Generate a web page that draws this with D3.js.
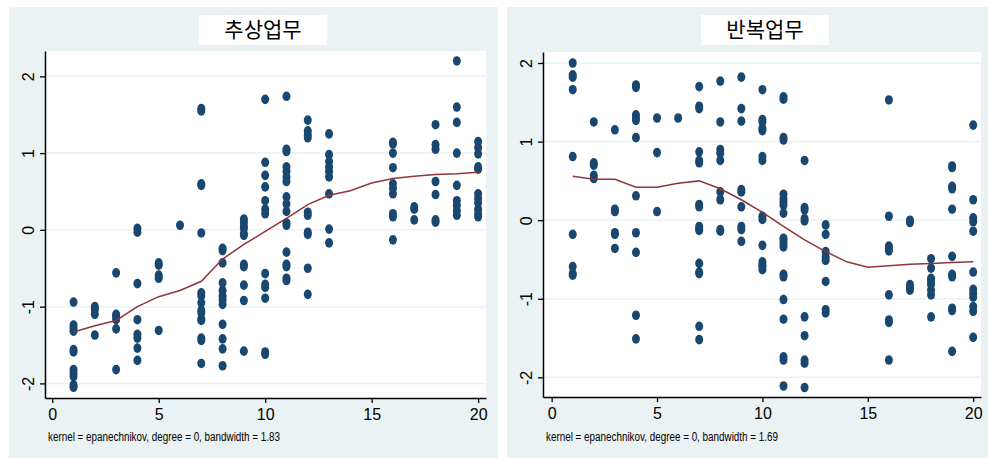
<!DOCTYPE html>
<html>
<head>
<meta charset="utf-8">
<script src="https://cdn.jsdelivr.net/npm/d3@7"></script>
<style>
  body { margin: 0; background: #fff; }
  text { font-family: "Liberation Sans", Arial, sans-serif; fill: #000; }
  .title { font-family: "Noto Sans CJK KR", sans-serif; }
</style>
</head>
<body>
<svg id="chart" width="988" height="458"></svg>
<script>
// x values (job group) and the y values stacked at each x
var abstractX = [1, 2, 3, 4, 5, 6, 7, 8, 9, 10, 11, 12, 13, 16, 17, 18, 19, 20];
var abstractY = [
  [-0.94, -1.24, -1.28, -1.32, -1.56, -1.59, -1.82, -1.87, -1.91, -2.02, -2.05],
  [-1.0, -1.04, -1.10, -1.37],
  [-0.56, -1.10, -1.13, -1.17, -1.29, -1.82],
  [0.02, -0.03, -0.70, -1.17, -1.36, -1.41, -1.54, -1.70],
  [-0.43, -0.46, -0.59, -0.63, -1.31],
  [0.06],
  [1.58, 1.55, 0.60, 0.58, -0.04, -0.82, -0.86, -0.95, -1.05, -1.08, -1.16, -1.18, -1.41, -1.44, -1.74],
  [-0.24, -0.27, -0.43, -0.69, -0.79, -0.86, -0.91, -0.97, -1.23, -1.42, -1.55, -1.77],
  [0.14, 0.10, 0.05, 0.02, -0.05, -0.07, -0.45, -0.48, -0.72, -0.92, -1.58],
  [1.70, 0.88, 0.71, 0.56, 0.38, 0.27, 0.21, -0.57, -0.71, -0.75, -0.89, -1.59, -1.62],
  [1.74, 1.05, 1.02, 0.82, 0.76, 0.69, 0.63, 0.43, 0.34, 0.24, 0.09, 0.06, -0.29, -0.45, -0.48, -0.63, -0.66],
  [1.43, 1.29, 1.24, 1.20, 0.23, 0.19, -0.03, -0.06, -0.50, -0.84],
  [1.25, 0.98, 0.89, 0.82, 0.76, 0.69, 0.47, 0.01, -0.17],
  [1.14, 1.12, 1.00, 0.81, 0.60, 0.54, 0.47, 0.21, 0.17, -0.13],
  [0.30, 0.27, 0.13],
  [1.37, 1.11, 1.05, 0.63, 0.46, 0.13, 0.10],
  [2.20, 1.60, 1.40, 1.00, 0.58, 0.38, 0.32, 0.25, 0.19],
  [1.15, 1.07, 0.99, 0.82, 0.79, 0.47, 0.41, 0.35, 0.27, 0.21, 0.17]
];
var abstractFitX = [1, 2, 3, 4, 5, 6, 7, 8, 9, 10, 11, 12, 13, 14, 15, 16, 17, 18, 19, 20];
var abstractFitY = [-1.33, -1.25, -1.18, -1.0, -0.87, -0.79, -0.67, -0.38, -0.19, -0.02, 0.15, 0.33, 0.45, 0.51, 0.61, 0.67, 0.70, 0.72, 0.73, 0.75];

var routineX = [1, 2, 3, 4, 5, 6, 7, 8, 9, 10, 11, 12, 13, 16, 17, 18, 19, 20];
var routineY = [
  [2.0, 1.85, 1.82, 1.66, 0.81, -0.18, -0.59, -0.68, -0.70],
  [1.25, 0.73, 0.70, 0.57, 0.53],
  [1.15, 0.14, 0.11, -0.16, -0.18, -0.36],
  [1.72, 1.69, 1.34, 1.30, 1.27, 1.05, 0.31, -0.16, -0.41, -1.21, -1.51],
  [1.30, 0.86, 0.11],
  [1.30],
  [1.70, 1.45, 1.42, 0.87, 0.76, 0.73, 0.20, 0.17, -0.08, -0.11, -0.13, -0.55, -0.66, -0.68, -1.35, -1.52],
  [1.77, 1.25, 0.90, 0.85, 0.76, 0.36, 0.26, -0.12, -0.14],
  [1.82, 1.42, 1.26, 0.39, 0.36, 0.17, -0.08, -0.12, -0.27],
  [1.66, 1.28, 1.25, 1.17, 1.14, 0.81, 0.76, 0.05, 0.01, -0.32, -0.53, -0.57, -0.59, -0.63],
  [1.57, 1.54, 1.05, 1.02, 0.33, 0.27, 0.23, 0.19, 0.09, -0.23, -0.26, -0.30, -0.34, -0.69, -0.72, -1.01, -1.26, -1.74, -1.78, -2.11],
  [0.76, 0.16, 0.13, 0.02, -0.01, -1.23, -1.47, -1.78, -1.82, -2.13],
  [-0.06, -0.18, -0.40, -0.47, -0.51, -0.78, -1.14, -1.18],
  [1.53, 0.05, -0.33, -0.36, -0.39, -0.95, -1.27, -1.30, -1.78],
  [0.0, -0.03, -0.82, -0.86, -0.89],
  [-0.49, -0.61, -0.74, -0.78, -0.82, -0.89, -0.95, -1.23],
  [0.69, 0.67, 0.43, 0.40, 0.14, -0.46, -0.69, -0.72, -1.12, -1.15, -1.67],
  [1.21, 0.26, 0.03, -0.02, -0.14, -0.66, -0.88, -0.93, -0.98, -1.10, -1.16, -1.49]
];
var routineFitX = [1, 2, 3, 4, 5, 6, 7, 8, 9, 10, 11, 12, 13, 14, 15, 16, 17, 18, 19, 20];
var routineFitY = [0.56, 0.52, 0.52, 0.42, 0.42, 0.47, 0.50, 0.40, 0.26, 0.10, -0.08, -0.25, -0.40, -0.53, -0.60, -0.58, -0.56, -0.55, -0.54, -0.53];

var xTicks = [0, 5, 10, 15, 20];
var yTicks = [-2, -1, 0, 1, 2];

var BG = "#eaf2f3", NAVY = "#1a476f", MAROON = "#90353b";
var svg = d3.select("#chart");

// plain hyphen minus, no decimals (Stata style)
function tickFmt(d) { return String(d); }

function drawPanel(opt) {
  var g = svg.append("g");

  g.append("rect").attr("x", opt.bg[0]).attr("y", 7)
    .attr("width", opt.bg[1] - opt.bg[0]).attr("height", 451).attr("fill", BG);

  // title box
  g.append("rect").attr("x", opt.titleBox[0]).attr("y", 15)
    .attr("width", opt.titleBox[1] - opt.titleBox[0]).attr("height", 30).attr("fill", "#fff");
  g.append("text").attr("class", "title")
    .attr("x", (opt.titleBox[0] + opt.titleBox[1]) / 2).attr("y", 37)
    .attr("text-anchor", "middle").style("font-size", "21px")
    .text(opt.title);

  var x = d3.scaleLinear().domain(opt.xDomain).range([opt.left, opt.right]);
  var y = d3.scaleLinear().domain(opt.yDomain).range([opt.bottom, opt.top]);

  g.append("rect").attr("x", opt.left).attr("y", opt.top)
    .attr("width", opt.right - opt.left).attr("height", opt.bottom - opt.top).attr("fill", "#fff");

  // horizontal grid
  g.selectAll(".grid").data(yTicks).enter().append("line")
    .attr("x1", opt.left).attr("x2", opt.right)
    .attr("y1", function(d) { return y(d); }).attr("y2", function(d) { return y(d); })
    .attr("stroke", BG).attr("stroke-width", 1.5);

  var pts = [];
  opt.xs.forEach(function(xv, i) {
    opt.ys[i].forEach(function(yv) { pts.push([xv, yv]); });
  });
  g.selectAll(".dot").data(pts).enter().append("ellipse")
    .attr("cx", function(d) { return x(d[0]); })
    .attr("cy", function(d) { return y(d[1]); })
    .attr("rx", 4).attr("ry", 4.8)
    .attr("fill", NAVY);

  var line = d3.line()
    .x(function(d) { return x(d[0]); })
    .y(function(d) { return y(d[1]); });
  g.append("path")
    .datum(d3.zip(opt.fitX, opt.fitY))
    .attr("d", line)
    .attr("fill", "none").attr("stroke", MAROON).attr("stroke-width", 1.5);

  // axes
  var yAxis = g.append("g").attr("transform", "translate(" + opt.left + ",0)")
    .call(d3.axisLeft(y).tickValues(yTicks).tickFormat(tickFmt).tickSize(5).tickSizeOuter(0));
  var xAxis = g.append("g").attr("transform", "translate(0," + opt.bottom + ")")
    .call(d3.axisBottom(x).tickValues(xTicks).tickFormat(tickFmt).tickSize(5).tickPadding(6).tickSizeOuter(0));

  [xAxis, yAxis].forEach(function(a) {
    a.select(".domain").attr("stroke", "#000").attr("stroke-width", 1.5);
    a.selectAll(".tick line").attr("stroke", "#000").attr("stroke-width", 1.3);
    a.selectAll("text").style("font-family", "Liberation Sans, Arial, sans-serif")
      .style("font-size", "16px").attr("fill", "#000");
  });
  yAxis.selectAll(".tick text")
    .attr("x", null).attr("dy", null)
    .attr("text-anchor", "middle")
    .attr("transform", "translate(-17,0) rotate(-90) translate(0,6)");

  g.append("text")
    .attr("x", opt.left + 3).attr("y", 441)
    .attr("textLength", 232).attr("lengthAdjust", "spacingAndGlyphs")
    .style("font-size", "12.5px")
    .text(opt.note);
}

drawPanel({
  bg: [9, 498], titleBox: [199, 327], title: "추상업무",
  left: 45, right: 486, top: 51, bottom: 398,
  xDomain: [-0.34, 20.37], yDomain: [-2.19, 2.33],
  xs: abstractX, ys: abstractY, fitX: abstractFitX, fitY: abstractFitY,
  note: "kernel = epanechnikov, degree = 0, bandwidth = 1.83"
});

drawPanel({
  bg: [507, 988], titleBox: [701, 829], title: "반복업무",
  left: 543, right: 981, top: 52, bottom: 397,
  xDomain: [-0.41, 20.37], yDomain: [-2.25, 2.14],
  xs: routineX, ys: routineY, fitX: routineFitX, fitY: routineFitY,
  note: "kernel = epanechnikov, degree = 0, bandwidth = 1.69"
});
</script>
</body>
</html>
